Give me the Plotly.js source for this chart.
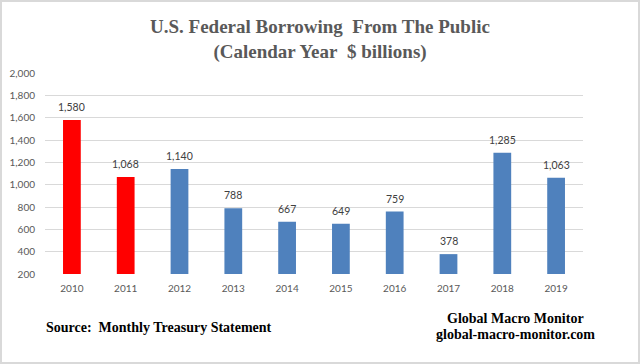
<!DOCTYPE html>
<html><head><meta charset="utf-8">
<script src="https://cdn.plot.ly/plotly-3.0.1.min.js"></script>
<style>html,body{margin:0;padding:0;background:#fff}#c{width:640px;height:364px}</style>
</head><body><div id="c"></div>
<script>
const years = ['2010','2011','2012','2013','2014','2015','2016','2017','2018','2019'];
const borrowing = [1580, 1068, 1140, 788, 667, 649, 759, 378, 1285, 1063];
const barColors = ['#FF0000','#FF0000','#4F81BD','#4F81BD','#4F81BD','#4F81BD','#4F81BD','#4F81BD','#4F81BD','#4F81BD'];
const labels = borrowing.map(v => v.toLocaleString('en-US'));

const L = 45, R = 57, T = 73, B = 90, W = 640, H = 364;
const pw = W - L - R, ph = H - T - B;
const serif = 'Liberation Serif, Times New Roman, serif';

const trace = {
  type: 'bar', x: years, y: borrowing, marker: {color: barColors},
  hoverinfo: 'none'
};
// category axis: annotation x is the category index
const valueLabels = years.map((yr, i) => ({
  text: labels[i], x: i, y: borrowing[i], xref: 'x', yref: 'y',
  xanchor: 'center', yanchor: 'bottom', yshift: 5, showarrow: false,
  font: {family: 'Lato, sans-serif', size: 10.5, color: '#404040'}
}));
const layout = {
  width: W, height: H,
  margin: {l: L, r: R, t: T, b: B, pad: 0},
  paper_bgcolor: '#fff', plot_bgcolor: '#fff',
  showlegend: false, bargap: 0.67,
  title: {text: '<b>U.S. Federal Borrowing&nbsp; From The Public<br>(Calendar Year&nbsp; $ billions)</b>',
    font: {family: serif, size: 19, color: '#595959'},
    x: 0.5, xref: 'container', y: 1 - 33/H, yref: 'container', yanchor: 'middle'},
  xaxis: {type: 'category', categoryorder: 'array', categoryarray: years,
    showgrid: false, showline: false, ticks: '', zeroline: false,
    tickfont: {family: 'Lato, sans-serif', size: 10, color: '#595959'}, ticklabelstandoff: 7},
  yaxis: {range: [200, 2000], dtick: 200, tick0: 0, tickformat: ',d', showgrid: true,
    gridcolor: '#D9D9D9', gridwidth: 1, zeroline: false, showline: false, ticks: '',
    tickfont: {family: 'Lato, sans-serif', size: 10, color: '#595959'}, ticklabelstandoff: 9},
  annotations: valueLabels.concat([
    {text: '<b>Source:&nbsp; Monthly Treasury Statement</b>', xref: 'paper', yref: 'paper',
      x: (44 - L)/pw, y: (H - B - 327)/ph, xanchor: 'left', yanchor: 'middle', showarrow: false,
      font: {family: serif, size: 14, color: '#000'}},
    {text: '<b>Global Macro Monitor</b>', xref: 'paper', yref: 'paper',
      x: (515 - L)/pw, y: (H - B - 318)/ph, xanchor: 'center', yanchor: 'middle', showarrow: false,
      font: {family: serif, size: 14, color: '#000'}},
    {text: '<b>global-macro-monitor.com</b>', xref: 'paper', yref: 'paper',
      x: (515 - L)/pw, y: (H - B - 334)/ph, xanchor: 'center', yanchor: 'middle', showarrow: false,
      font: {family: serif, size: 14, color: '#000'}}
  ]),
  shapes: [
    {type: 'rect', xref: 'paper', yref: 'paper', x0: (1 - L)/pw, x1: (W - 1 - L)/pw,
      y0: (H - B - (H - 1))/ph, y1: (H - B - 1)/ph, line: {color: '#D9D9D9', width: 2}, layer: 'above'}
  ]
};
Plotly.newPlot('c', [trace], layout, {staticPlot: true, displayModeBar: false});
</script></body></html>
